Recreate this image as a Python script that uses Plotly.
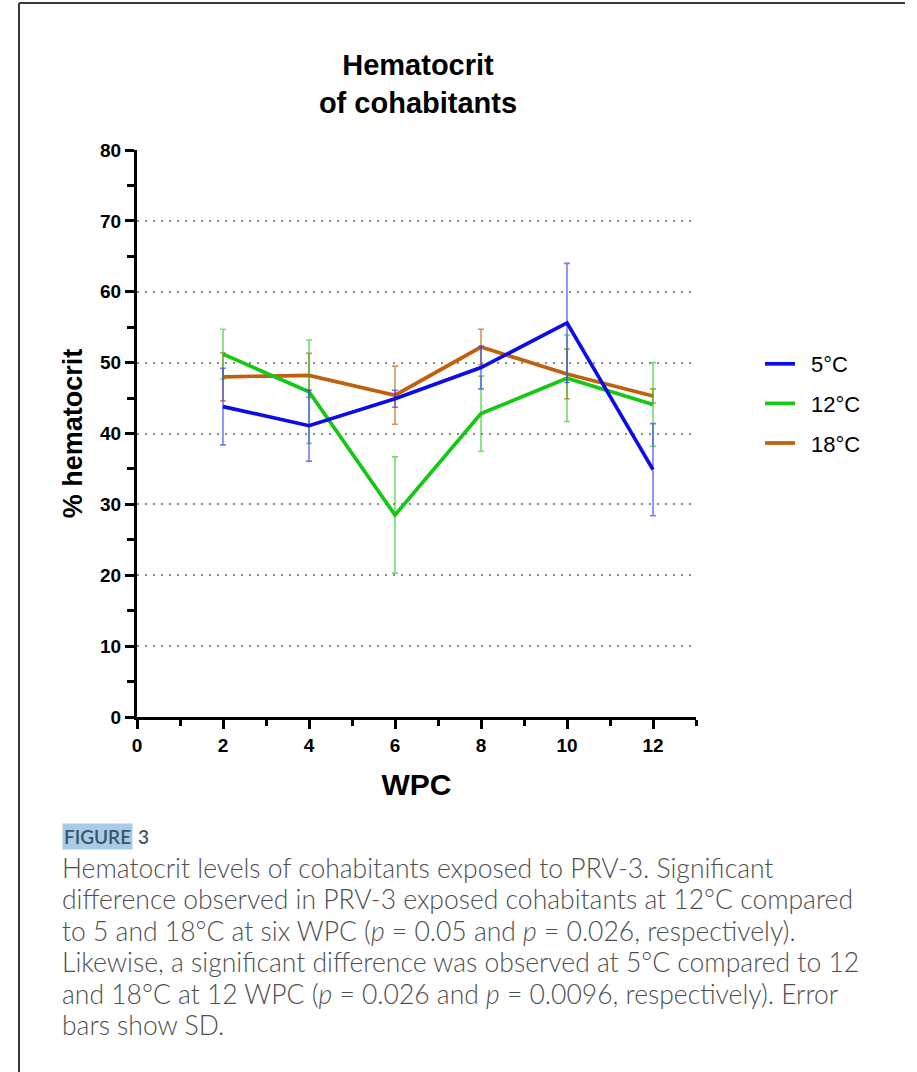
import plotly.graph_objects as go

# ---------------- data ----------------
wpc = [2, 4, 6, 8, 10, 12]
series_names = ["5°C", "12°C", "18°C"]
t5_mean = [43.8, 41.1, 44.9, 49.3, 55.6, 34.9]
t5_sd = [5.4, 5.0, 1.2, 3.0, 8.4, 6.5]
t12_mean = [51.2, 45.9, 28.5, 42.8, 47.8, 44.1]
t12_sd = [3.5, 7.3, 8.2, 5.3, 6.1, 5.9]
t18_mean = [48.0, 48.2, 45.4, 52.2, 48.4, 45.3]
t18_sd = [3.4, 3.1, 4.1, 2.5, 3.5, 1.0]
y_ticks = [0, 10, 20, 30, 40, 50, 60, 70, 80]
grid_vals = [10, 20, 30, 40, 50, 60, 70]
x_ticks = [0, 2, 4, 6, 8, 10, 12]

caption_lines = [
    "Hematocrit levels of cohabitants exposed to PRV-3. Significant",
    "difference observed in PRV-3 exposed cohabitants at 12°C compared",
    "to 5 and 18°C at six WPC (<i>p</i> = 0.05 and <i>p</i> = 0.026, respectively).",
    "Likewise, a significant difference was observed at 5°C compared to 12",
    "and 18°C at 12 WPC (<i>p</i> = 0.026 and <i>p</i> = 0.0096, respectively). Error",
    "bars show SD.",
]

# ---------------- layout geometry ----------------
W, H = 917, 1072
L, R, T, B = 137, 221, 150, 355
PW, PH = W - L - R, H - T - B


def px_x(px):
    return (px - L) / PW


def px_y(py):
    return (H - B - py) / PH


FONT = "Liberation Sans, Arial, sans-serif"
CAP_FONT = "Lato, Open Sans, sans-serif"

line_colors = ["#0c0ce8", "#14c814", "#c0600c"]
err_colors = ["rgba(50,50,255,0.65)", "rgba(20,200,20,0.6)", "rgba(200,100,20,0.7)"]
means = [t5_mean, t12_mean, t18_mean]
sds = [t5_sd, t12_sd, t18_sd]

fig = go.Figure()
# invisible helper trace so the overlaid grid axis is drawn
fig.add_trace(go.Scatter(x=[], y=[], yaxis="y2", showlegend=False,
                         hoverinfo="skip", mode="lines"))
# draw 18, 12, then 5 so blue sits on top
for i in [2, 1, 0]:
    fig.add_trace(go.Scatter(
        x=wpc, y=means[i], name="\u2002" + series_names[i], mode="lines",
        line=dict(color=line_colors[i], width=3.7),
        error_y=dict(type="data", array=sds[i], visible=True,
                     color=err_colors[i], thickness=1.6, width=3),
        legendgroup=series_names[i], legendrank=i + 1,
    ))

fig.update_layout(
    width=W, height=H,
    margin=dict(l=L, r=R, t=T, b=B),
    paper_bgcolor="white", plot_bgcolor="white",
    font=dict(family=FONT, color="black"),
    title=dict(text="Hematocrit<br>of cohabitants", x=px_x(418), xref="paper",
               xanchor="center", y=1 - 75 / H, yref="container", yanchor="middle",
               font=dict(family=FONT, size=29, weight="bold", color="black")),
    showlegend=True,
    legend=dict(x=px_x(760), xanchor="left", y=px_y(343), yanchor="top",
                font=dict(family=FONT, size=22, color="black"),
                tracegroupgap=8, traceorder="grouped",
                bgcolor="rgba(0,0,0,0)", borderwidth=0),
    xaxis=dict(
        range=[0, 13], tickvals=x_ticks, showgrid=False, zeroline=False,
        showline=True, linecolor="black", linewidth=3,
        ticks="outside", ticklen=9, tickwidth=2.5, tickcolor="black",
        minor=dict(dtick=1, tick0=0, ticks="outside", ticklen=6, tickwidth=2.5,
                   tickcolor="black", showgrid=False),
        tickfont=dict(family=FONT, size=19, weight="bold", color="black"),
        title=dict(text="WPC", standoff=20,
                   font=dict(family=FONT, size=30, weight="bold", color="black")),
    ),
    yaxis=dict(
        range=[0, 80], tickvals=y_ticks, showgrid=False, zeroline=False,
        showline=True, linecolor="black", linewidth=3,
        ticks="outside", ticklen=9, tickwidth=2.5, tickcolor="black",
        minor=dict(dtick=5, tick0=0, ticks="outside", ticklen=7, tickwidth=2.5,
                   tickcolor="black", showgrid=False),
        tickfont=dict(family=FONT, size=19, weight="bold", color="black"),
        title=dict(text="% hematocrit", standoff=10,
                   font=dict(family=FONT, size=27, weight="bold", color="black")),
    ),
    yaxis2=dict(
        range=[0, 80], overlaying="y", anchor="x", side="left",
        tickvals=grid_vals, showticklabels=False, ticks="",
        showgrid=True, gridcolor="#8a8a8a", gridwidth=1.6, griddash="2px,6px",
        zeroline=False, showline=False,
    ),
)

# frame lines (page border of the figure panel)
fig.add_shape(type="line", xref="paper", yref="paper",
              x0=px_x(19), x1=px_x(19), y0=px_y(3), y1=px_y(H),
              line=dict(color="#3a3a3a", width=2))
fig.add_shape(type="line", xref="paper", yref="paper",
              x0=px_x(19), x1=px_x(905), y0=px_y(3), y1=px_y(3),
              line=dict(color="#3a3a3a", width=2))

# caption label
fig.add_annotation(text="FIGURE", xref="paper", yref="paper",
                   x=px_x(62), y=px_y(836), xanchor="left", yanchor="middle",
                   showarrow=False, bgcolor="#a9cbe6", borderpad=1,
                   font=dict(family=CAP_FONT, size=19, weight=600, color="#3d5368"))
fig.add_annotation(text="3", xref="paper", yref="paper",
                   x=px_x(136), y=px_y(836), xanchor="left", yanchor="middle",
                   showarrow=False,
                   font=dict(family=CAP_FONT, size=19, weight=600, color="#3d5368"))
for k, line in enumerate(caption_lines):
    fig.add_annotation(text=line, xref="paper", yref="paper",
                       x=px_x(60), y=px_y(868 + k * 31.4), xanchor="left", yanchor="middle",
                       showarrow=False, align="left",
                       font=dict(family=CAP_FONT, size=26.5, weight=300, color="#4f4f4f"))

fig.write_html("out.html")
